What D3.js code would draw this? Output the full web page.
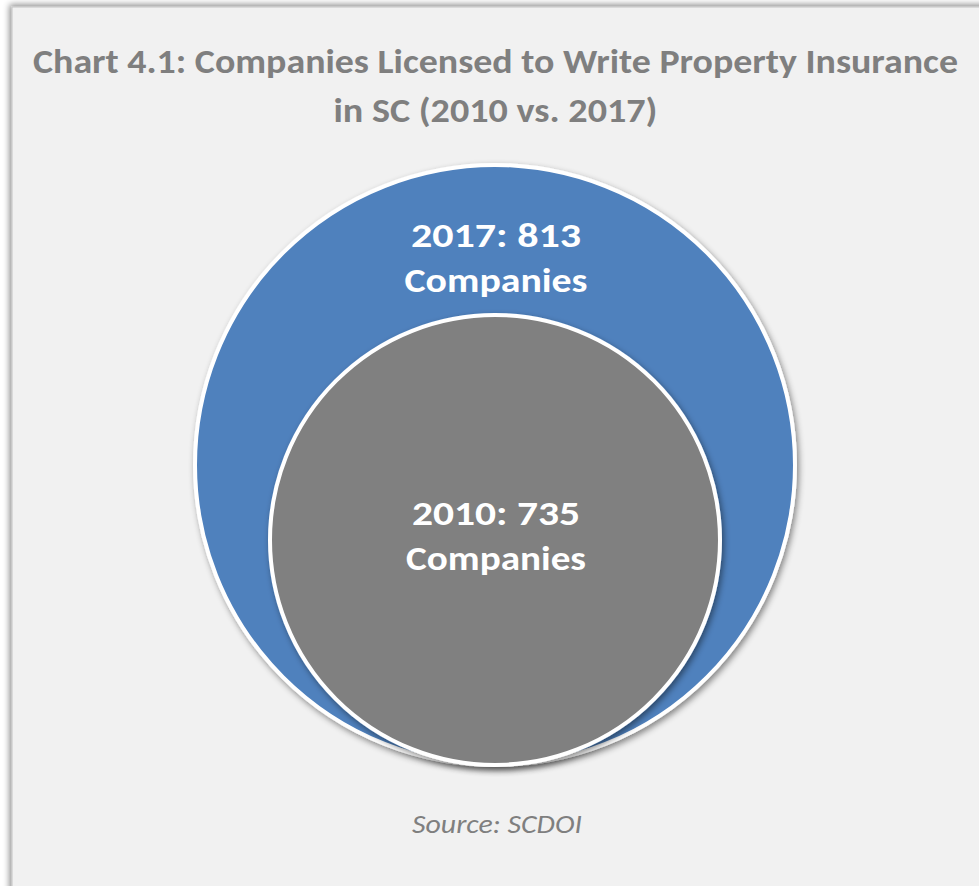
<!DOCTYPE html>
<html><head><meta charset="utf-8">
<script src="https://cdn.jsdelivr.net/npm/d3@7"></script>
<style>html,body{margin:0;padding:0;background:#ffffff;}svg{display:block;}</style>
</head><body>
<script>
const years = ["2017", "2010"];
const companies = [813, 735];
const colors = ["#4f81bd", "#808080"];
const titleLines = ["Chart 4.1: Companies Licensed to Write Property Insurance", "in SC (2010 vs. 2017)"];
const sourceText = "Source: SCDOI";

const W = 979, H = 886;
const svg = d3.select("body").append("svg").attr("width", W).attr("height", H);
const defs = svg.append("defs");
const f = defs.append("filter").attr("id", "sh").attr("x", "-20%").attr("y", "-20%").attr("width", "140%").attr("height", "140%");
f.append("feDropShadow").attr("dx", 2).attr("dy", 3).attr("stdDeviation", 3).attr("flood-color", "#000").attr("flood-opacity", 0.45);
const fb = defs.append("filter").attr("id", "bsh").attr("x", "-5%").attr("y", "-5%").attr("width", "110%").attr("height", "110%");
fb.append("feDropShadow").attr("dx", -2).attr("dy", -2).attr("stdDeviation", 3).attr("flood-color", "#000").attr("flood-opacity", 0.45);

svg.append("rect").attr("x", 12).attr("y", 7).attr("width", W + 20).attr("height", H + 20)
  .attr("fill", "#f1f1f1").attr("stroke", "#c4c4c4").attr("stroke-width", 1).attr("filter", "url(#bsh)");

const font = "Carlito, Calibri, Lato, 'Open Sans', sans-serif";
const titleW = [925, 324];
const titleY = [73, 122];
svg.selectAll("text.title").data(titleLines).join("text").attr("class", "title")
  .attr("x", 495.5).attr("y", (d, i) => titleY[i]).attr("text-anchor", "middle")
  .attr("font-family", font).attr("font-weight", "bold").attr("font-size", 34)
  .attr("fill", "#7f7f7f").attr("textLength", (d, i) => titleW[i]).attr("lengthAdjust", "spacingAndGlyphs")
  .text(d => d);

// radius scale
const r = d3.scaleLinear().domain([735, 813]).range([225, 300]);
const cx = 495, bottomY = 765;
const data = years.map((y, i) => ({ year: y, value: companies[i], color: colors[i] }));

svg.selectAll("circle.c").data(data).join("circle").attr("class", "c")
  .attr("cx", cx).attr("cy", d => bottomY - r(d.value)).attr("r", d => r(d.value))
  .attr("fill", d => d.color).attr("stroke", "#ffffff").attr("stroke-width", 4).attr("filter", "url(#sh)");

const labelY = [[247, 292], [525, 570]];
const labelW = [[170, 183], [168, 180]];
data.forEach((d, i) => {
  const lines = [`${d.year}: ${d.value}`, "Companies"];
  lines.forEach((t, j) => {
    svg.append("text").attr("x", cx + 1).attr("y", labelY[i][j]).attr("text-anchor", "middle")
      .attr("font-family", font).attr("font-weight", "bold").attr("font-size", 35)
      .attr("fill", "#ffffff").attr("textLength", labelW[i][j]).attr("lengthAdjust", "spacingAndGlyphs")
      .text(t);
  });
});

svg.append("text").attr("x", 497).attr("y", 833).attr("text-anchor", "middle")
  .attr("font-family", font).attr("font-style", "italic").attr("font-size", 27)
  .attr("fill", "#7f7f7f").attr("textLength", 170).attr("lengthAdjust", "spacingAndGlyphs")
  .text(sourceText);
</script>
</body></html>
